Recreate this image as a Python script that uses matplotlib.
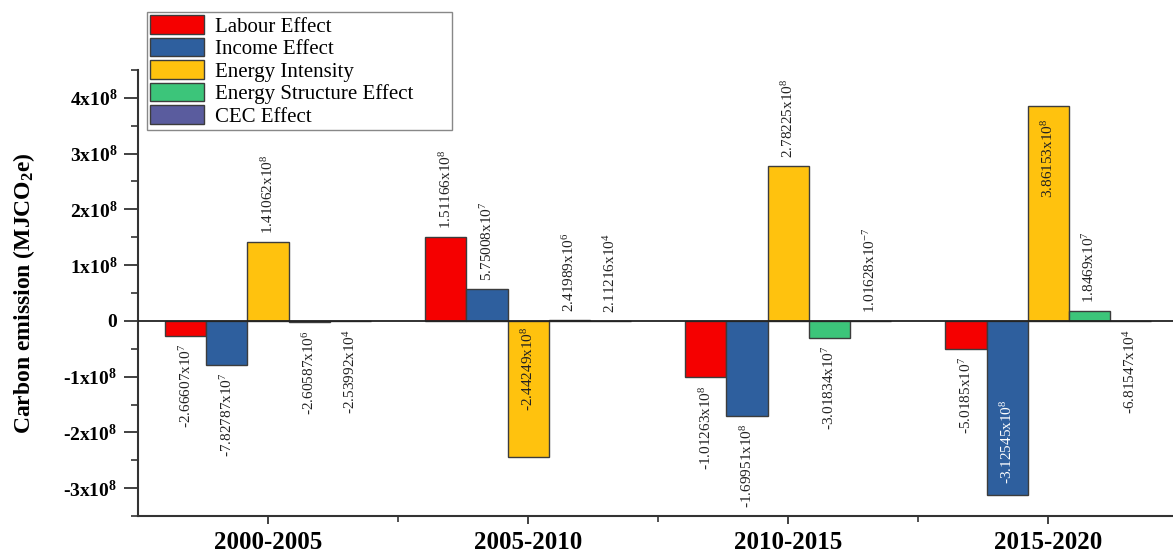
import matplotlib
matplotlib.use('Agg')
import matplotlib.pyplot as plt
import numpy as np
from matplotlib.ticker import MultipleLocator, FixedLocator

plt.rcParams['font.family'] = ['Liberation Serif', 'DejaVu Serif']
plt.rcParams['mathtext.default'] = 'regular'

# ---- data ----
periods = ['2000-2005', '2005-2010', '2010-2015', '2015-2020']
series_names = ['Labour Effect', 'Income Effect', 'Energy Intensity',
                'Energy Structure Effect', 'CEC Effect']
labour = [-2.66607e7, 1.51166e8, -1.01263e8, -5.0185e7]
income = [-7.82787e7, 5.75008e7, -1.69951e8, -3.12545e8]
intensity = [1.41062e8, -2.44249e8, 2.78225e8, 3.86153e8]
structure = [-2.60587e6, 2.41989e6, -3.01834e7, 1.8469e7]
cec = [-2.53992e4, 2.11216e4, 1.01628e-7, -6.81547e4]
yticks = [-3e8, -2e8, -1e8, 0, 1e8, 2e8, 3e8, 4e8]
ytick_labels = ['-3x10$^8$', '-2x10$^8$', '-1x10$^8$', '0',
                '1x10$^8$', '2x10$^8$', '3x10$^8$', '4x10$^8$']

colors = ['#F50000', '#2E5F9E', '#FFC20E', '#3CC57A', '#5A5C9E']
all_vals = [labour, income, intensity, structure, cec]


def fmt(v):
    e = int(np.floor(np.log10(abs(v))))
    m = v / 10.0 ** e
    return f'{m:.6g}x10$^{{{e}}}$'


fig = plt.figure(figsize=(11.73, 5.57), dpi=100)
ax = fig.add_axes([138 / 1173, 1 - 516 / 557, 1 - 138 / 1173, (516 - 70) / 557])

x = np.arange(1, len(periods) + 1)
w = 0.158
offs = (np.arange(5) - 2) * w

# special label placements (series index, period index): (anchor, va, offset px, color)
special = {
    (2, 1): ('zero', 'top', -6, '#222222'),
    (2, 3): ('value', 'top', -13, '#222222'),
    (1, 3): ('value', 'bottom', 11, 'white'),
}

handles = []
for i, (name, vals, col) in enumerate(zip(series_names, all_vals, colors)):
    b = ax.bar(x + offs[i], vals, w, color=col, edgecolor='#3c3c3c',
               linewidth=1.0, label=name, zorder=2)
    handles.append(b)
    for j, v in enumerate(vals):
        xp = x[j] + offs[i]
        if (i, j) in special:
            anc, va, off, tc = special[(i, j)]
            yp = 0 if anc == 'zero' else v
        elif v >= 0:
            yp, va, off, tc = v, 'bottom', 8, '#222222'
        else:
            yp, va, off, tc = v, 'top', -8, '#222222'
        ax.annotate(fmt(v), xy=(xp, yp), xytext=(0, off * 0.72),
                    textcoords='offset points', rotation=90,
                    ha='center', va=va, fontsize=11, color=tc, zorder=5)

ax.axhline(0, color='#222222', lw=1.3, zorder=3)

ax.set_xlim(0.5, 4.48)
ax.set_ylim(-3.5e8, 4.5e8)

ax.set_xticks(x)
ax.set_xticklabels(periods, fontsize=18, fontweight='bold')
ax.xaxis.set_minor_locator(FixedLocator([1.5, 2.5, 3.5]))
ax.set_yticks(yticks)
ax.set_yticklabels(ytick_labels, fontsize=14, fontweight='bold')
ax.yaxis.set_minor_locator(MultipleLocator(0.5e8))

ax.tick_params(axis='y', which='major', length=10, width=1.3, pad=5, color='#333333')
ax.tick_params(axis='y', which='minor', length=5, width=1.2, color='#333333')
ax.tick_params(axis='x', which='major', length=6, width=1.3, pad=5, color='#333333')
ax.tick_params(axis='x', which='minor', length=4, width=1.2, color='#333333')

for s in ['top', 'right']:
    ax.spines[s].set_visible(False)
for s in ['left', 'bottom']:
    ax.spines[s].set_linewidth(1.5)
    ax.spines[s].set_color('#333333')

ax.set_ylabel('Carbon emission (MJCO$_2$e)', fontsize=17, fontweight='bold')
ax.yaxis.set_label_coords(-0.098, 0.5)

leg = ax.legend(handles=handles, loc='upper left',
                bbox_to_anchor=(147 / 1173, 1 - 128 / 557, 305 / 1173, 116 / 557),
                bbox_transform=fig.transFigure, mode='expand', fontsize=15,
                frameon=True, fancybox=False, edgecolor='#888888', framealpha=1,
                handlelength=2.6, handleheight=1.0, labelspacing=0.05,
                handletextpad=0.5, borderpad=0.15, borderaxespad=0)
leg.get_frame().set_linewidth(1.0)

fig.savefig('out.png', dpi=100)
